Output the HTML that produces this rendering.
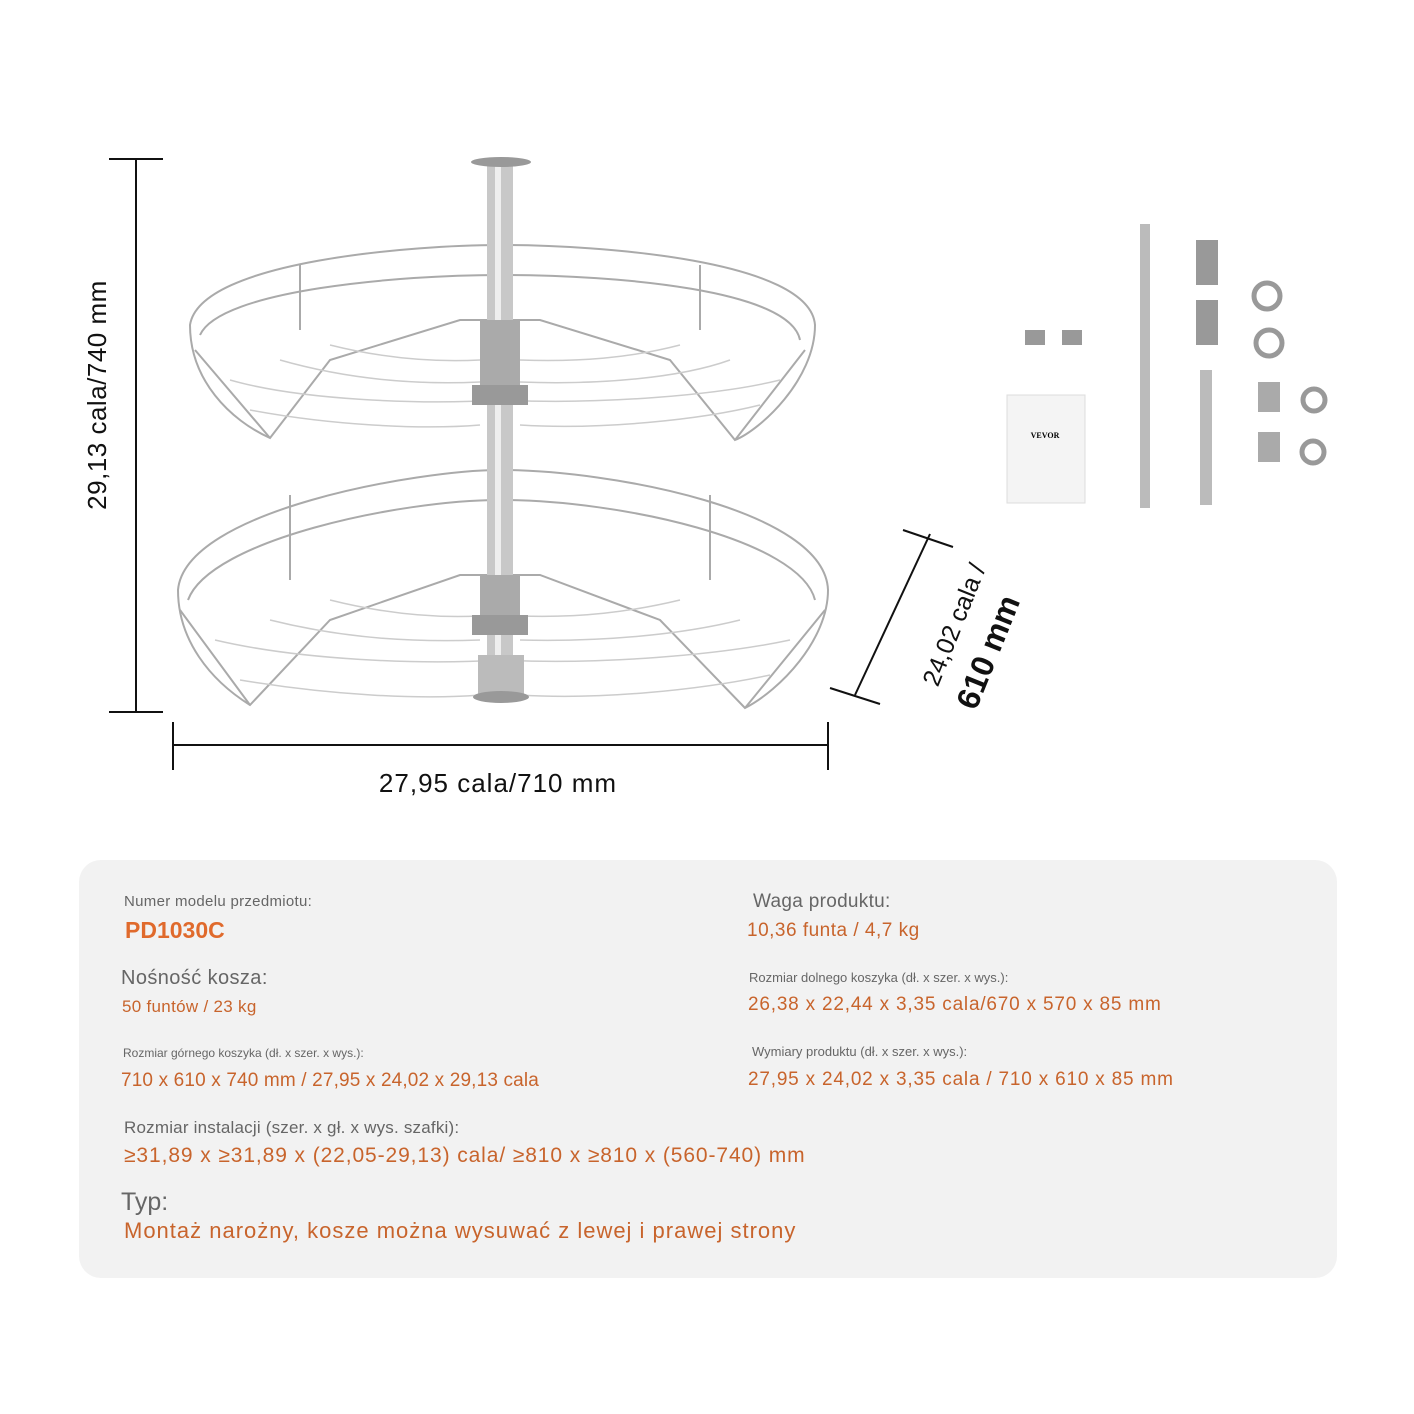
<!DOCTYPE html>
<html><head><meta charset="utf-8"><style>
body{margin:0;width:1414px;height:1414px;background:#fff;position:relative;overflow:hidden;font-family:"Liberation Sans",sans-serif}
.t{position:absolute;white-space:nowrap;line-height:1}
.g{color:#666}.o{color:#c8642c}
#box{position:absolute;left:79px;top:860px;width:1258px;height:418px;background:#f2f2f2;border-radius:22px}
</style></head><body>
<svg width="1414" height="1414" style="position:absolute;left:0;top:0">
<g stroke="#111" stroke-width="2" fill="none">
<line x1="136" y1="159" x2="136" y2="712"/><line x1="109" y1="159" x2="163" y2="159"/><line x1="109" y1="712" x2="163" y2="712"/>
<line x1="173" y1="745" x2="828" y2="745"/><line x1="173" y1="722" x2="173" y2="770"/><line x1="828" y1="722" x2="828" y2="770"/>
<line x1="930" y1="534" x2="855" y2="695"/><line x1="903" y1="530" x2="953" y2="547"/><line x1="830" y1="688" x2="880" y2="704"/>
</g>
<g stroke="#aaa" stroke-width="2" fill="none">
<path d="M190 325 C200 260 420 245 500 245 C600 245 810 260 815 325 C815 380 760 430 735 440 L670 360 L540 320 L460 320 L330 360 L270 438 C230 420 190 380 190 325Z"/>
<path d="M200 335 C220 290 400 275 500 275 C620 275 790 290 800 340"/>
<path d="M195 350 L270 438 M805 350 L735 440 M300 265 L300 330 M700 265 L700 330"/>
<path d="M178 590 C185 510 420 470 500 470 C610 470 825 510 828 590 C828 640 780 690 745 708 L660 620 L540 575 L460 575 L330 620 L250 705 C210 680 178 640 178 590Z"/>
<path d="M188 600 C210 540 400 500 500 500 C620 500 800 540 815 600"/>
<path d="M180 610 L250 705 M825 610 L745 708 M290 495 L290 580 M710 495 L710 580"/>
</g>
<g stroke="#ccc" stroke-width="1.5" fill="none">
<path d="M230 380 C300 400 420 405 500 400 C600 405 720 395 780 380"/>
<path d="M250 410 C330 425 420 430 480 425 M520 425 C600 430 700 420 760 405"/>
<path d="M280 360 C350 380 420 385 480 382 M520 382 C600 385 680 378 730 360"/>
<path d="M330 345 C390 360 440 362 480 360 M520 360 C580 362 630 358 680 345"/>
<path d="M215 640 C300 660 420 665 500 660 C600 665 720 655 790 640"/>
<path d="M240 680 C330 695 420 700 480 695 M520 695 C600 700 700 690 770 675"/>
<path d="M270 620 C350 640 420 642 480 640 M520 640 C600 642 680 635 740 620"/>
<path d="M330 600 C390 615 440 618 480 616 M520 616 C580 618 630 612 680 600"/>
</g>
<rect x="487" y="165" width="26" height="535" fill="#c8c8c8"/>
<rect x="495" y="165" width="6" height="535" fill="#eee"/>
<ellipse cx="501" cy="162" rx="30" ry="5" fill="#999"/>
<rect x="480" y="320" width="40" height="70" fill="#aaa"/><rect x="472" y="385" width="56" height="20" fill="#999"/>
<rect x="480" y="575" width="40" height="60" fill="#aaa"/><rect x="472" y="615" width="56" height="20" fill="#999"/>
<rect x="478" y="655" width="46" height="40" fill="#bbb"/><ellipse cx="501" cy="697" rx="28" ry="6" fill="#999"/>
<rect x="1007" y="395" width="78" height="108" fill="#f4f4f4" stroke="#ddd"/>
<text x="1045" y="438" font-size="8" text-anchor="middle" font-family="Liberation Serif" font-weight="bold">VEVOR</text>
<rect x="1140" y="224" width="10" height="284" fill="#bbb"/><rect x="1200" y="370" width="12" height="135" fill="#bbb"/>
<rect x="1196" y="240" width="22" height="45" fill="#999"/><rect x="1196" y="300" width="22" height="45" fill="#999"/>
<circle cx="1267" cy="296" r="13" fill="none" stroke="#999" stroke-width="5"/><circle cx="1269" cy="343" r="13" fill="none" stroke="#999" stroke-width="5"/>
<rect x="1258" y="382" width="22" height="30" fill="#aaa"/><rect x="1258" y="432" width="22" height="30" fill="#aaa"/>
<circle cx="1314" cy="400" r="11" fill="none" stroke="#999" stroke-width="5"/><circle cx="1313" cy="452" r="11" fill="none" stroke="#999" stroke-width="5"/>
<rect x="1025" y="330" width="20" height="15" fill="#999"/><rect x="1062" y="330" width="20" height="15" fill="#999"/>
</svg>
<div class="t" style="left:97px;top:395px;font-size:26px;letter-spacing:0.5px;color:#111;transform:translate(-50%,-50%) rotate(-90deg)">29,13 cala/740 mm</div>
<div class="t" style="left:498px;top:783px;font-size:26px;letter-spacing:1px;color:#111;transform:translate(-50%,-50%)">27,95 cala/710 mm</div>
<div class="t" style="left:955px;top:625px;font-size:25px;color:#111;transform:translate(-50%,-50%) rotate(-68deg)">24,02 cala /</div>
<div class="t" style="left:988px;top:652px;font-size:32px;font-weight:bold;color:#111;transform:translate(-50%,-50%) rotate(-68deg)">610 mm</div>
<div id="box"></div>
<div class="t g" style="left:124px;top:894px;font-size:15px;letter-spacing:0.3px">Numer modelu przedmiotu:</div>
<div class="t" style="left:125px;top:919px;font-size:23px;font-weight:bold;color:#e06a2c">PD1030C</div>
<div class="t g" style="left:121px;top:968px;font-size:20px;letter-spacing:0.4px">Nośność kosza:</div>
<div class="t o" style="left:122px;top:998px;font-size:17px;letter-spacing:0.3px">50 funtów / 23 kg</div>
<div class="t g" style="left:123px;top:1047px;font-size:12px">Rozmiar górnego koszyka (dł. x szer. x wys.):</div>
<div class="t o" style="left:121px;top:1071px;font-size:19px;letter-spacing:0.15px">710 x 610 x 740 mm / 27,95 x 24,02 x 29,13 cala</div>
<div class="t g" style="left:124px;top:1119px;font-size:17px;letter-spacing:0.2px">Rozmiar instalacji (szer. x gł. x wys. szafki):</div>
<div class="t o" style="left:124px;top:1145px;font-size:21px;letter-spacing:0.9px">≥31,89 x ≥31,89 x (22,05-29,13) cala/ ≥810 x ≥810 x (560-740) mm</div>
<div class="t g" style="left:121px;top:1190px;font-size:25px">Typ:</div>
<div class="t o" style="left:124px;top:1220px;font-size:22px;letter-spacing:1px">Montaż narożny, kosze można wysuwać z lewej i prawej strony</div>
<div class="t g" style="left:753px;top:892px;font-size:19px;letter-spacing:0.3px">Waga produktu:</div>
<div class="t o" style="left:747px;top:921px;font-size:19px;letter-spacing:0.5px">10,36 funta / 4,7 kg</div>
<div class="t g" style="left:749px;top:971px;font-size:13px">Rozmiar dolnego koszyka (dł. x szer. x wys.):</div>
<div class="t o" style="left:748px;top:995px;font-size:19px;letter-spacing:0.8px">26,38 x 22,44 x 3,35 cala/670 x 570 x 85 mm</div>
<div class="t g" style="left:752px;top:1045px;font-size:13px">Wymiary produktu (dł. x szer. x wys.):</div>
<div class="t o" style="left:748px;top:1070px;font-size:19px;letter-spacing:0.8px">27,95 x 24,02 x 3,35 cala / 710 x 610 x 85 mm</div>
</body></html>
